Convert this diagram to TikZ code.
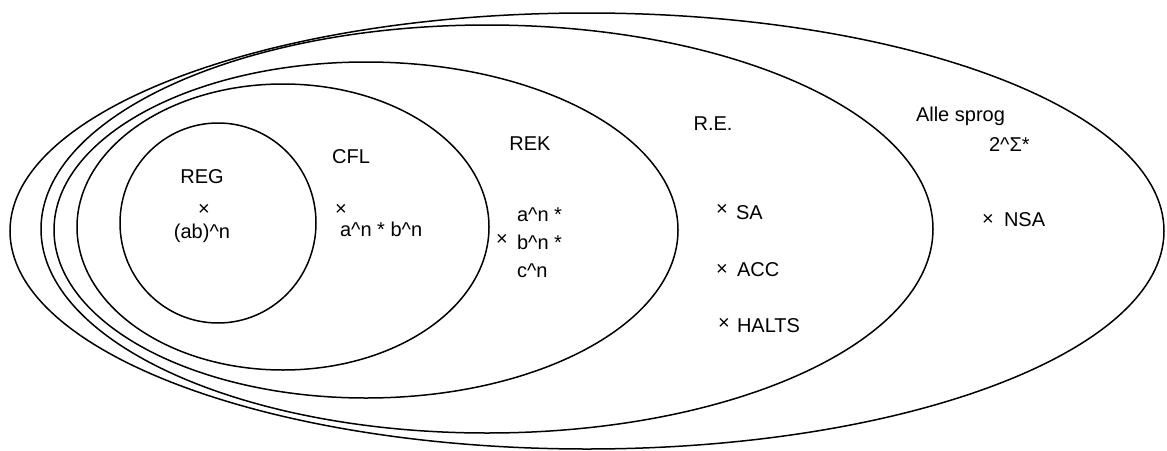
\documentclass[tikz,border=0pt]{standalone}
\usepackage{fontspec}
\setmainfont{Liberation Sans}
\usetikzlibrary{shapes.geometric}
\begin{document}
\begin{tikzpicture}[x=1pt,y=-1pt,
  langset/.style={ellipse, draw=black, line width=1.5pt, inner sep=0pt, outer sep=0pt},
  lbl/.style={font=\fontsize{20}{24}\selectfont, inner sep=0pt, outer sep=0pt},
  cross/.style={font=\fontsize{20}{24}\selectfont, inner sep=0pt, outer sep=0pt, anchor=center}
]
\useasboundingbox (0,0) rectangle (1167,450);

% nested language classes
\node[langset, minimum width=1154pt, minimum height=436pt] (alle) at (587,231) {};
\node[langset, minimum width=892pt,  minimum height=408pt] (re)   at (487,229) {};
\node[langset, minimum width=624pt,  minimum height=336pt] (rek)  at (366,230) {};
\node[langset, minimum width=412pt,  minimum height=286pt] (cfl)  at (283,227) {};
\node[langset, minimum width=196pt,  minimum height=200pt] (reg)  at (218,223) {};

% REG
\node[lbl, anchor=base] (regname) at (202,183) {REG};
\node[cross] (regx) at (204,210) {×};
\node[lbl, anchor=base] (regex) at (202,238) {(ab)\^{}n};

% CFL
\node[lbl, anchor=base] (cflname) at (351,163) {CFL};
\node[cross] (cflx) at (341,210) {×};
\node[lbl, anchor=base west] (cflex) at (340,236) {a\^{}n * b\^{}n};

% REK
\node[lbl, anchor=base] (rekname) at (530,150) {REK};
\node[cross] (rekx) at (502,240) {×};
\node[lbl, anchor=base west] (rekex1) at (517,221) {a\^{}n *};
\node[lbl, anchor=base west] (rekex2) at (517,249) {b\^{}n *};
\node[lbl, anchor=base west] (rekex3) at (517,277) {c\^{}n};

% R.E.
\node[lbl, anchor=base] (rename) at (713,130) {R.E.};
\node[cross] (sax) at (722,210) {×};
\node[lbl, anchor=base west] (sa) at (736,219) {SA};
\node[cross] (accx) at (722,270) {×};
\node[lbl, anchor=base west] (acc) at (737,276) {ACC};
\node[cross] (haltsx) at (724,324) {×};
\node[lbl, anchor=base west] (halts) at (737,332) {HALTS};

% all languages
\node[lbl, anchor=base west] (allename) at (916,121) {Alle sprog};
\node[lbl, anchor=base west] (power) at (989,151) {2\^{}Σ*};
\node[cross] (nsax) at (988,220) {×};
\node[lbl, anchor=base west] (nsa) at (1004,226) {NSA};
\end{tikzpicture}
\end{document}
